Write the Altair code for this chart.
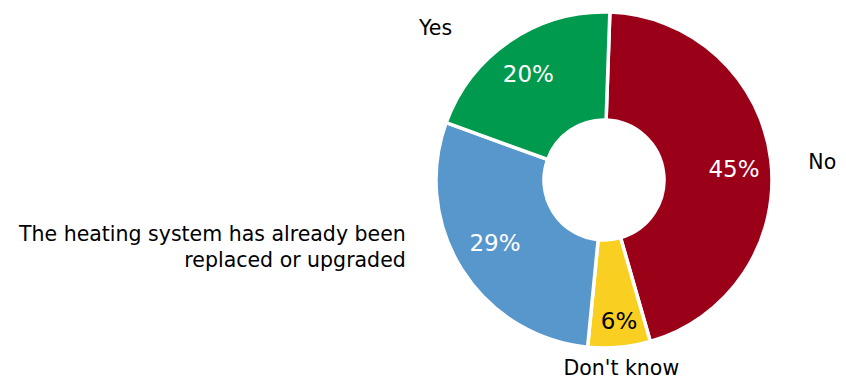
import math
import altair as alt
import pandas as pd

categories = ["No", "Don't know", "The heating system has already been\nreplaced or upgraded", "Yes"]
values = [45, 6, 29, 20]
colors = ["#9B0019", "#F9CF21", "#5897CB", "#009A4E"]

df = pd.DataFrame({"category": categories, "value": values, "idx": list(range(len(categories)))})

start_angle = math.radians(2)
theta_scale = alt.Scale(domain=[0, 100], range=[start_angle, start_angle + 2 * math.pi])

base = alt.Chart(df).transform_window(
    cum="sum(value)", sort=[alt.SortField("idx")], frame=[None, 0]
).transform_calculate(
    start="datum.cum - datum.value",
    mid="datum.cum - datum.value / 2",
    pct="datum.value + '%'",
)

arcs = base.mark_arc(innerRadius=60, outerRadius=168, stroke="white", strokeWidth=3.5).encode(
    theta=alt.Theta("start:Q", scale=theta_scale, stack=False),
    theta2="cum:Q",
    color=alt.Color("category:N", scale=alt.Scale(domain=categories, range=colors), legend=None),
)


def label(i, field, radius, dx, dy, color, size, align="center"):
    return base.transform_filter(
        alt.FieldEqualPredicate(field="idx", equal=i)
    ).mark_text(
        radius=radius, dx=dx, dy=dy, color=color, fontSize=size, font="DejaVu Sans",
        align=align, baseline="middle", lineBreak="\n", lineHeight=26,
    ).encode(
        theta=alt.Theta("mid:Q", scale=theta_scale, stack=False),
        text=alt.Text(f"{field}:N"),
    )


layers = [
    arcs,
    # percentage labels
    label(0, "pct", 130, 1, 6, "white", 23),
    label(1, "pct", 144, 2, -1, "black", 23),
    label(2, "pct", 130, 1, -5, "white", 23),
    label(3, "pct", 130, -3, 3, "white", 23),
    # category labels
    label(0, "category", 228, -8, 11, "black", 20.5),
    label(1, "category", 202, -1, -12, "black", 20.5),
    label(2, "category", 200, -29, -52, "black", 20.5, align="right"),
    label(3, "category", 185, -65, 2, "black", 20.5),
]

chart = alt.layer(*layers).properties(
    width=400,
    height=340,
    padding={"left": 396, "right": 34, "top": 2, "bottom": 31},
    autosize="none",
    background="white",
).configure_view(strokeWidth=0)

chart.save("out.html", embed_options={"renderer": "svg", "actions": False})
